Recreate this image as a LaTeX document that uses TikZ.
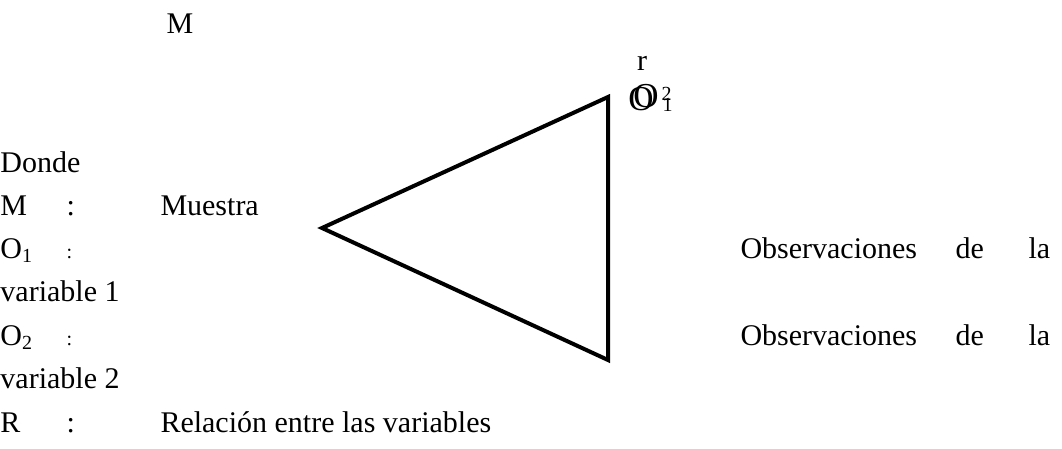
\documentclass[tikz,border=0pt]{standalone}
\usepackage{fontspec}
\setmainfont{Liberation Serif}
\usetikzlibrary{positioning}

\begin{document}
\begin{tikzpicture}[x=0.4pt, y=-0.4pt, font=\rmfamily\fontsize{12}{14}\selectfont,
  txt/.style={anchor=base west, inner sep=0pt},
  lbl/.style={anchor=base, inner sep=0pt},
  small/.style={font=\rmfamily\fontsize{8}{9}\selectfont},
  big/.style={font=\rmfamily\fontsize{14}{16}\selectfont},
  tri/.style={line width=1.6pt, line join=miter}]
\useasboundingbox (0,0) rectangle (1062,448);
% title letter over the legend
\node[lbl] (muestra) at (180,33) {M};
% legend lines
\node[txt] (donde) at (0,172) {Donde};
\node[txt] (mkey) at (0,215) {M};
\node[txt] (mcol) at (66,215) {:};
\node[txt] (mtxt) at (160,215) {Muestra};
\node[txt] (okey) at (0,258) {O\textsubscript{1}};
\node[txt, small] (ocol) at (66,258) {:};
\node[txt] (otxt) at (740,258) {Observaciones};
\node[txt] (ode) at (955,258) {de};
\node[txt] (ola) at (1028,258) {la};
\node[txt] (ovar) at (0,301) {variable 1};
\node[txt] (pkey) at (0,345) {O\textsubscript{2}};
\node[txt, small] (pcol) at (66,345) {:};
\node[txt] (ptxt) at (740,345) {Observaciones};
\node[txt] (pde) at (955,345) {de};
\node[txt] (pla) at (1028,345) {la};
\node[txt] (pvar) at (0,388) {variable 2};
\node[txt] (rkey) at (0,432) {R};
\node[txt] (rcol) at (66,432) {:};
\node[txt] (rtxt) at (160,432) {Relación entre las variables};
% triangle
\coordinate (apex) at (322,228);
\coordinate (top) at (608,97);
\coordinate (bot) at (608,360);
\draw[tri] (apex) -- (top) -- (bot) -- cycle;
% stacked labels at the corner
\node[lbl] (rlab) at (642,70) {r};
\node[lbl, big] (oone) at (641,110) {O};
\node[lbl, big] (otwo) at (646,107) {O};
\node[txt, small] (stwo) at (661,100) {2};
\node[txt, small] (sone) at (662,111) {1};
\end{tikzpicture}
\end{document}
